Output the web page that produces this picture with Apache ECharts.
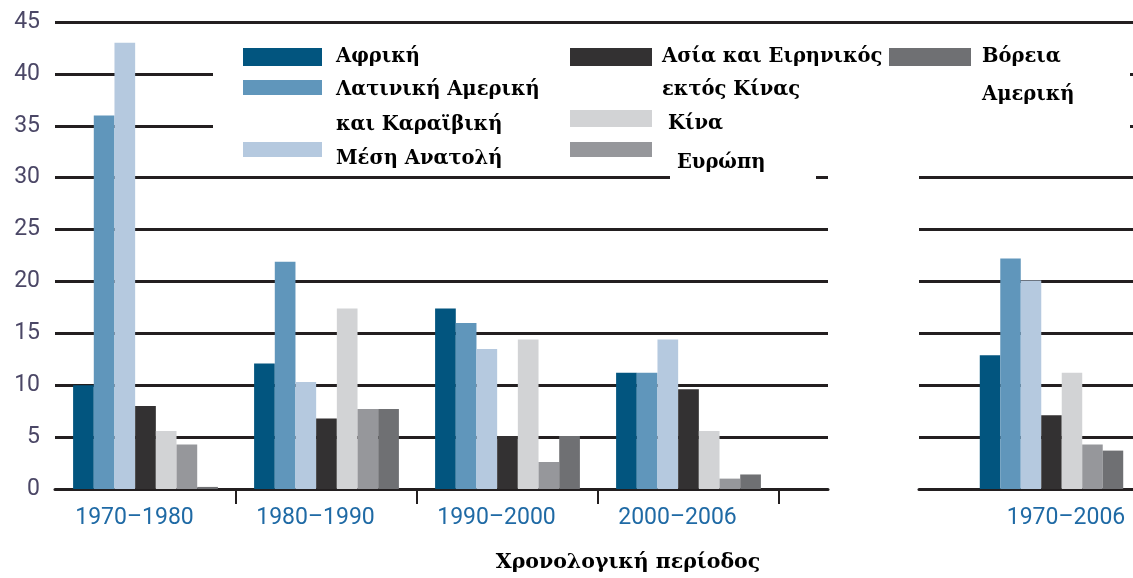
<!DOCTYPE html>
<html>
<head>
<meta charset="utf-8">
<script src="https://cdn.jsdelivr.net/npm/echarts@6/dist/echarts.min.js"></script>
<style>
	html, body { margin: 0; padding: 0; background: #fff; }
	#chart { width: 1133px; height: 578px; }
</style>
</head>
<body>
<div id="chart"></div>
<script>
	// περίοδοι (4 στο κύριο διάγραμμα, 1 στο δεξί)
	var periods = ['1970–1980', '1980–1990', '1990–2000', '2000–2006'];
	var totalPeriod = ['1970–2006'];

	var regionNames = ['Αφρική', 'Λατινική Αμερική\nκαι Καραϊβική', 'Μέση Ανατολή',
		'Ασία και Ειρηνικός\nεκτός Κίνας', 'Κίνα', 'Ευρώπη', 'Βόρεια\nΑμερική'];
	var regionColors = ['#02557f', '#6096bb', '#b5c9df', '#333132', '#d2d3d5', '#96979b', '#6f7073'];

	// τελευταία τιμή = 1970–2006
	var africa = [10.0, 12.1, 17.4, 11.2, 12.9];
	var latinAmerica = [36.0, 21.9, 16.0, 11.2, 22.2];
	var middleEast = [43.0, 10.3, 13.5, 14.4, 20.1];
	var asiaPacific = [8.0, 6.8, 5.1, 9.6, 7.1];
	var china = [5.6, 17.4, 14.4, 5.6, 11.2];
	var europe = [4.3, 7.7, 2.6, 1.0, 4.3];
	var northAmerica = [0.2, 7.7, 5.1, 1.4, 3.7];

	var yMax = 45, yStep = 5;

	var regionData = [africa, latinAmerica, middleEast, asiaPacific, china, europe, northAmerica];
	var lineColor = '#231f20';
	var serif = '"DejaVu Serif", "Liberation Serif", serif';
	var sans = 'Roboto, "Open Sans", sans-serif';

	var chart = echarts.init(document.getElementById('chart'));

	function yAx(gridIndex, labels) {
		return {
			type: 'value', gridIndex: gridIndex, min: 0, max: yMax, interval: yStep,
			axisLine: { show: false }, axisTick: { show: false },
			axisLabel: { show: labels, color: '#4b4766', fontFamily: sans, fontSize: 23, margin: 15 },
			splitLine: { show: true, lineStyle: { color: lineColor, width: 3 } }
		};
	}

	// κενό τμήμα άξονα (μόνο γραμμές)
	function emptyX(gridIndex) {
		return {
			type: 'category', gridIndex: gridIndex, data: [''],
			axisLine: { lineStyle: { color: lineColor, width: 3 } },
			axisTick: { show: false }, axisLabel: { show: false }
		};
	}

	// legend: ένα στοιχείο ανά περιοχή, στις θέσεις της εικόνας
	function legendItem(name, left, iconTop, w, h, padLeft, lineH, lines, dy) {
		var pTop = Math.max(0, 2 * dy + (lines - 1) * lineH);
		var H = lines * lineH + pTop;
		return {
			data: [name], left: left, top: iconTop + h / 2 - H / 2, padding: 0,
			itemWidth: w, itemHeight: h, itemGap: 0, icon: 'rect', selectedMode: false,
			textStyle: {
				fontFamily: serif, fontWeight: 'bold', fontSize: 19.5, color: '#000',
				lineHeight: lineH, padding: [pTop, 0, 0, padLeft], rich: { x: {} }
			}
		};
	}

	var series = [];
	regionNames.forEach(function (name, i) {
		series.push({
			name: name, type: 'bar', xAxisIndex: 0, yAxisIndex: 0,
			data: regionData[i].slice(0, 4), barGap: 0, barCategoryGap: '20%',
			itemStyle: { color: regionColors[i] }
		});
		series.push({
			name: name, type: 'bar', xAxisIndex: 2, yAxisIndex: 2,
			data: regionData[i].slice(4), barGap: 0, barCategoryGap: '12%',
			itemStyle: { color: regionColors[i] }
		});
	});

	var option = {
		animation: false,
		color: regionColors,
		grid: [
			{ left: 55, top: 22, width: 724, height: 467 },
			{ left: 779, top: 22, width: 49, height: 467 },
			{ left: 970, top: 22, width: 163, height: 467 },
			{ left: 828, top: 22, width: 91, height: 467 },
			{ left: 919, top: 22, width: 51, height: 467 }
		],
		xAxis: [
			{
				type: 'category', gridIndex: 0, data: periods,
				axisLine: { lineStyle: { color: lineColor, width: 3 } },
				axisTick: { show: true, length: 15, interval: function (i) { return i > 0; },
					lineStyle: { color: lineColor, width: 2 } },
				axisLabel: { color: '#1f6aa5', fontFamily: sans, fontSize: 23, margin: 18,
					padding: [0, 22, 0, 0] }
			},
			emptyX(1),
			{
				type: 'category', gridIndex: 2, data: totalPeriod,
				axisLine: { lineStyle: { color: lineColor, width: 3 } },
				axisTick: { show: false },
				axisLabel: { color: '#1f6aa5', fontFamily: sans, fontSize: 23, margin: 18,
					padding: [0, 0, 0, 29] }
			},
			{
				type: 'category', gridIndex: 3, data: [''], position: 'top',
				axisLine: { onZero: false, lineStyle: { color: lineColor, width: 3 } },
				axisTick: { show: false }, axisLabel: { show: false }
			},
			emptyX(4)
		],
		yAxis: [yAx(0, true), yAx(1, false), yAx(2, false),
			{ type: 'value', gridIndex: 3, show: false, min: 0, max: yMax },
			yAx(4, false)],
		legend: [
			legendItem(regionNames[0], 243, 48, 79, 18, 9, 35, 1, 0),
			legendItem(regionNames[1], 243, 80, 79, 15, 9, 35, 2, 2),
			legendItem(regionNames[2], 243, 142, 79, 15, 9, 35, 1, 9),
			legendItem(regionNames[3], 570, 48, 82, 18, 5, 33, 2, 0),
			legendItem(regionNames[4], 570, 110, 82, 17, 11, 33, 1, 5),
			legendItem(regionNames[5], 570, 142, 82, 15, 20, 33, 1, 13),
			legendItem(regionNames[6], 889, 48, 82, 18, 6, 38, 2, 0)
		],
		graphic: [
			// λευκό φόντο του υπομνήματος πάνω από τις γραμμές
			{ type: 'rect', z: 1, shape: { x: 213, y: 38, width: 917, height: 118 }, style: { fill: '#fff' } },
			{ type: 'rect', z: 1, shape: { x: 670, y: 166, width: 146, height: 22 }, style: { fill: '#fff' } },
			{ type: 'text', z: 5, x: 628, y: 563,
				style: { text: 'Χρονολογική περίοδος', fontFamily: serif, fontWeight: 'bold', fontSize: 20.5,
					fill: '#000', align: 'center', verticalAlign: 'middle' } }
		],
		series: series
	};
	chart.setOption(option);
</script>
</body>
</html>
